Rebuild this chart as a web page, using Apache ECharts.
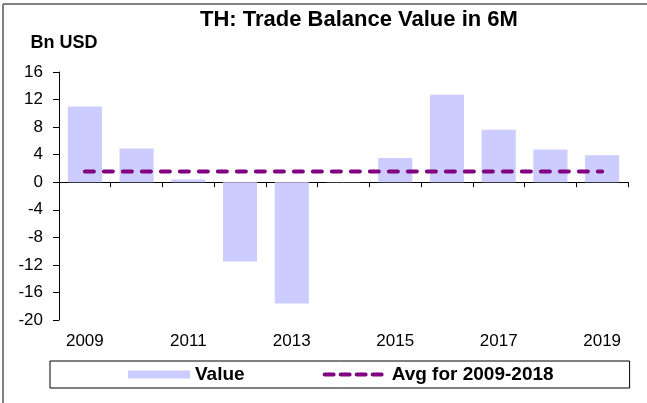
<!DOCTYPE html>
<html lang="en" style="height: 100%">
<head>
  <meta charset="utf-8">
</head>
<body style="height: 100%; margin: 0">
  <div id="container" style="width: 647px; height: 403px"></div>

  <script type="text/javascript" src="https://cdn.jsdelivr.net/npm/echarts@6/dist/echarts.min.js"></script>

  <script type="text/javascript">
    // data
    var years = ['2009', '2010', '2011', '2012', '2013', '2014', '2015', '2016', '2017', '2018', '2019'];
    var tradeBalance = [11.0, 4.9, 0.4, -11.5, -17.6, 0.05, 3.5, 12.7, 7.6, 4.75, 3.9];
    var avg0918 = [1.55, 1.55, 1.55, 1.55, 1.55, 1.55, 1.55, 1.55, 1.55, 1.55, 1.55];

    var FONT = 'Liberation Sans, Arial, sans-serif';

    var dom = document.getElementById('container');
    var myChart = echarts.init(dom, null, { renderer: 'canvas' });

    var option = {
      animation: false,
      backgroundColor: '#fff',
      title: {
        text: 'TH: Trade Balance Value in 6M',
        left: 200,
        top: 9,
        padding: 0,
        textStyle: { fontFamily: FONT, fontSize: 22, fontWeight: 'bold', color: '#000' }
      },
      legend: {
        left: 50,
        top: 361,
        padding: [4, 76, 4, 78],
        borderColor: '#000',
        borderWidth: 1,
        itemGap: 78,
        itemWidth: 62,
        itemHeight: 8,
        textStyle: { fontFamily: FONT, fontSize: 19, fontWeight: 'bold', color: '#000' },
        data: [
          { name: 'Value', icon: 'rect' },
          {
            name: 'Avg for 2009-2018',
            itemStyle: { opacity: 0 },
            lineStyle: { color: '#800080', width: 4, type: [9, 7], cap: 'round', opacity: 1 }
          }
        ]
      },
      grid: { left: 59, right: 19, top: 72, bottom: 83 },
      xAxis: [
        {
          type: 'category',
          data: years,
          axisLine: { onZero: true, lineStyle: { color: '#000', width: 1 } },
          axisTick: { show: true, interval: 0, length: 5, lineStyle: { color: '#000' } },
          axisLabel: { show: false },
          splitLine: { show: false }
        },
        {
          type: 'category',
          data: years,
          position: 'bottom',
          axisLine: { show: false, onZero: false },
          axisTick: { show: false },
          axisLabel: {
            interval: 1,
            margin: 13,
            fontFamily: FONT,
            fontSize: 17,
            color: '#000'
          },
          splitLine: { show: false }
        }
      ],
      yAxis: {
        type: 'value',
        min: -20,
        max: 16,
        interval: 4,
        name: 'Bn USD',
        nameGap: 20,
        nameTextStyle: {
          fontFamily: FONT, fontSize: 18, fontWeight: 'bold', color: '#000',
          align: 'center', padding: [0, 0, 0, 10]
        },
        axisLine: { show: true, lineStyle: { color: '#000', width: 1 } },
        axisTick: { show: true, length: 6, lineStyle: { color: '#000' } },
        axisLabel: { margin: 16, fontFamily: FONT, fontSize: 17, color: '#000' },
        splitLine: { show: false }
      },
      series: [
        {
          name: 'Value',
          type: 'bar',
          data: tradeBalance,
          barWidth: '66%',
          itemStyle: { color: '#CCCCFF' }
        },
        {
          name: 'Avg for 2009-2018',
          type: 'line',
          data: avg0918,
          symbol: 'none',
          itemStyle: { color: '#800080' },
          lineStyle: { color: '#800080', width: 4, type: [9, 10], cap: 'round' }
        }
      ],
      graphic: [
        { type: 'line', shape: { x1: 3, y1: 4, x2: 647, y2: 4 }, style: { stroke: '#808080', lineWidth: 2 } },
        { type: 'line', shape: { x1: 3, y1: 4, x2: 3, y2: 403 }, style: { stroke: '#808080', lineWidth: 2 } }
      ]
    };

    myChart.setOption(option);
    window.addEventListener('resize', myChart.resize);
  </script>
</body>
</html>
